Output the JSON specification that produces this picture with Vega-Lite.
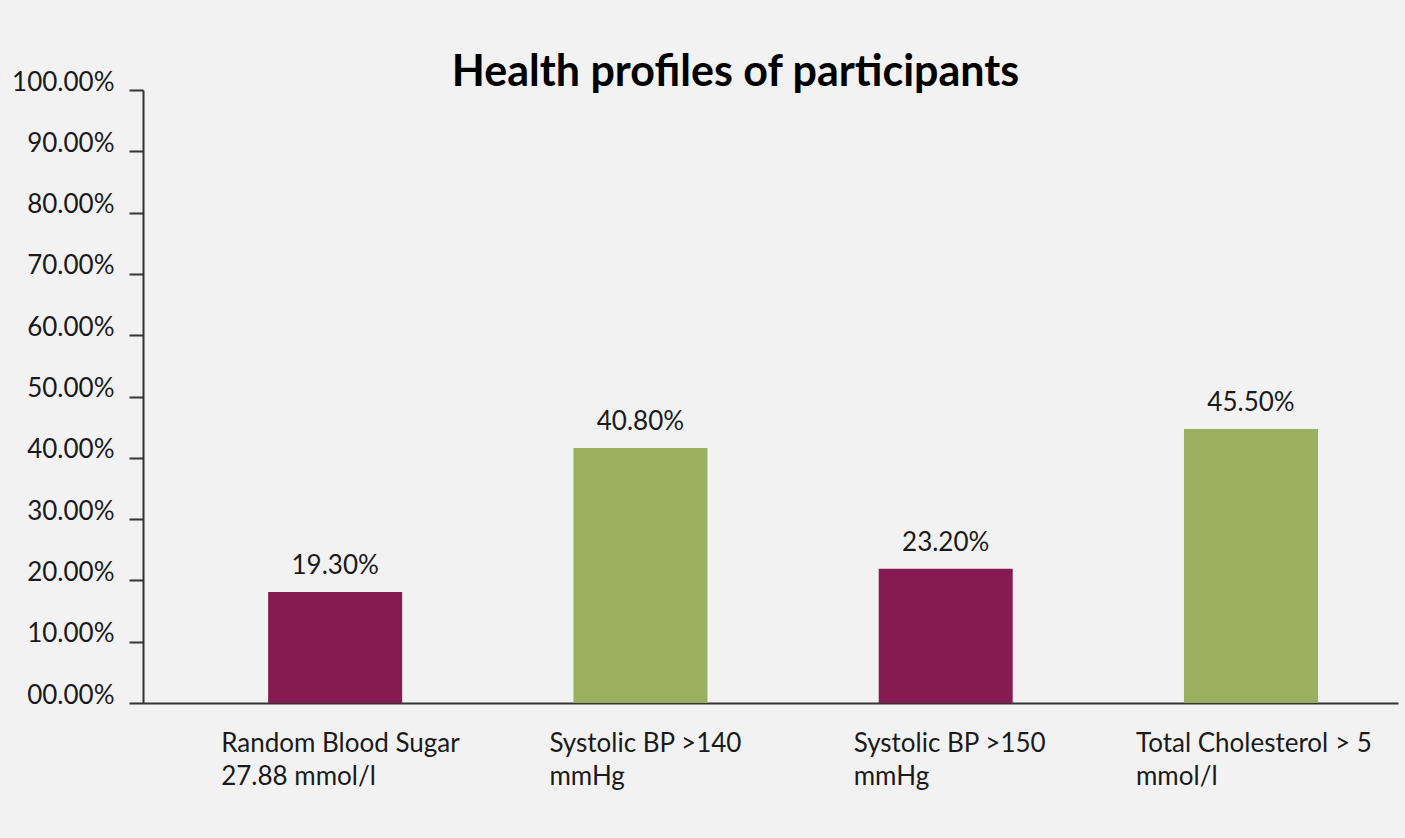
{
  "$schema": "https://vega.github.io/schema/vega-lite/v6.json",
  "width": 1255,
  "height": 613,
  "autosize": {"type": "none"},
  "padding": {"left": 143, "top": 90, "right": 7, "bottom": 135},
  "background": "#f2f2f2",
  "title": {
    "text": "Health profiles of participants",
    "font": "Lato",
    "fontSize": 43,
    "fontWeight": "bold",
    "color": "#000000",
    "anchor": "middle",
    "dx": -35,
    "baseline": "alphabetic",
    "offset": -60
  },
  "data": {
    "values": [
      {"category": "Random Blood Sugar|27.88 mmol/l", "value": 18.1, "label": "19.30%"},
      {"category": "Systolic BP >140|mmHg", "value": 41.6, "label": "40.80%"},
      {"category": "Systolic BP >150|mmHg", "value": 21.9, "label": "23.20%"},
      {"category": "Total Cholesterol > 5|mmol/l", "value": 44.7, "label": "45.50%"}
    ]
  },
  "encoding": {
    "x": {
      "field": "category",
      "type": "nominal",
      "sort": null,
      "scale": {"paddingInner": 0.561, "paddingOuter": 0.336, "align": 0.61},
      "axis": {
        "title": null,
        "labelAngle": 0,
        "labelExpr": "split(datum.label, '|')",
        "labelAlign": "left",
        "labelBaseline": "top",
        "labelFont": "Lato",
        "labelFontSize": 26,
        "labelColor": "#1a1a1a",
        "labelLineHeight": 33,
        "labelPadding": 27,
        "labelOffset": {"expr": "datum.value == 'Random Blood Sugar|27.88 mmol/l' ? -114 : datum.value == 'Systolic BP >140|mmHg' ? -91 : datum.value == 'Systolic BP >150|mmHg' ? -92 : -115"},
        "labelLimit": 400,
        "ticks": false,
        "domainColor": "#333333",
        "domainWidth": 2,
        "grid": false
      }
    },
    "y": {
      "field": "value",
      "type": "quantitative",
      "scale": {"domain": [0, 100], "nice": false},
      "axis": {
        "title": null,
        "values": [0, 10, 20, 30, 40, 50, 60, 70, 80, 90, 100],
        "labelExpr": "format(datum.value, '05.2f') + '%'",
        "labelFont": "Lato",
        "labelFontSize": 26,
        "labelColor": "#1a1a1a",
        "labelBaseline": "alphabetic",
        "labelPadding": 15,
        "tickSize": 14,
        "tickWidth": 2,
        "tickColor": "#333333",
        "domainColor": "#333333",
        "domainWidth": 2,
        "grid": false
      }
    }
  },
  "layer": [
    {
      "mark": {"type": "bar"},
      "encoding": {
        "color": {
          "field": "category",
          "type": "nominal",
          "scale": {
            "domain": ["Random Blood Sugar|27.88 mmol/l", "Systolic BP >140|mmHg", "Systolic BP >150|mmHg", "Total Cholesterol > 5|mmol/l"],
            "range": ["#861b52", "#9baf61", "#861b52", "#9baf61"]
          },
          "legend": null
        }
      }
    },
    {
      "mark": {"type": "text", "font": "Lato", "fontSize": 26, "color": "#1a1a1a", "baseline": "alphabetic", "dy": -18},
      "encoding": {"text": {"field": "label"}}
    }
  ],
  "config": {"view": {"stroke": null}}
}
